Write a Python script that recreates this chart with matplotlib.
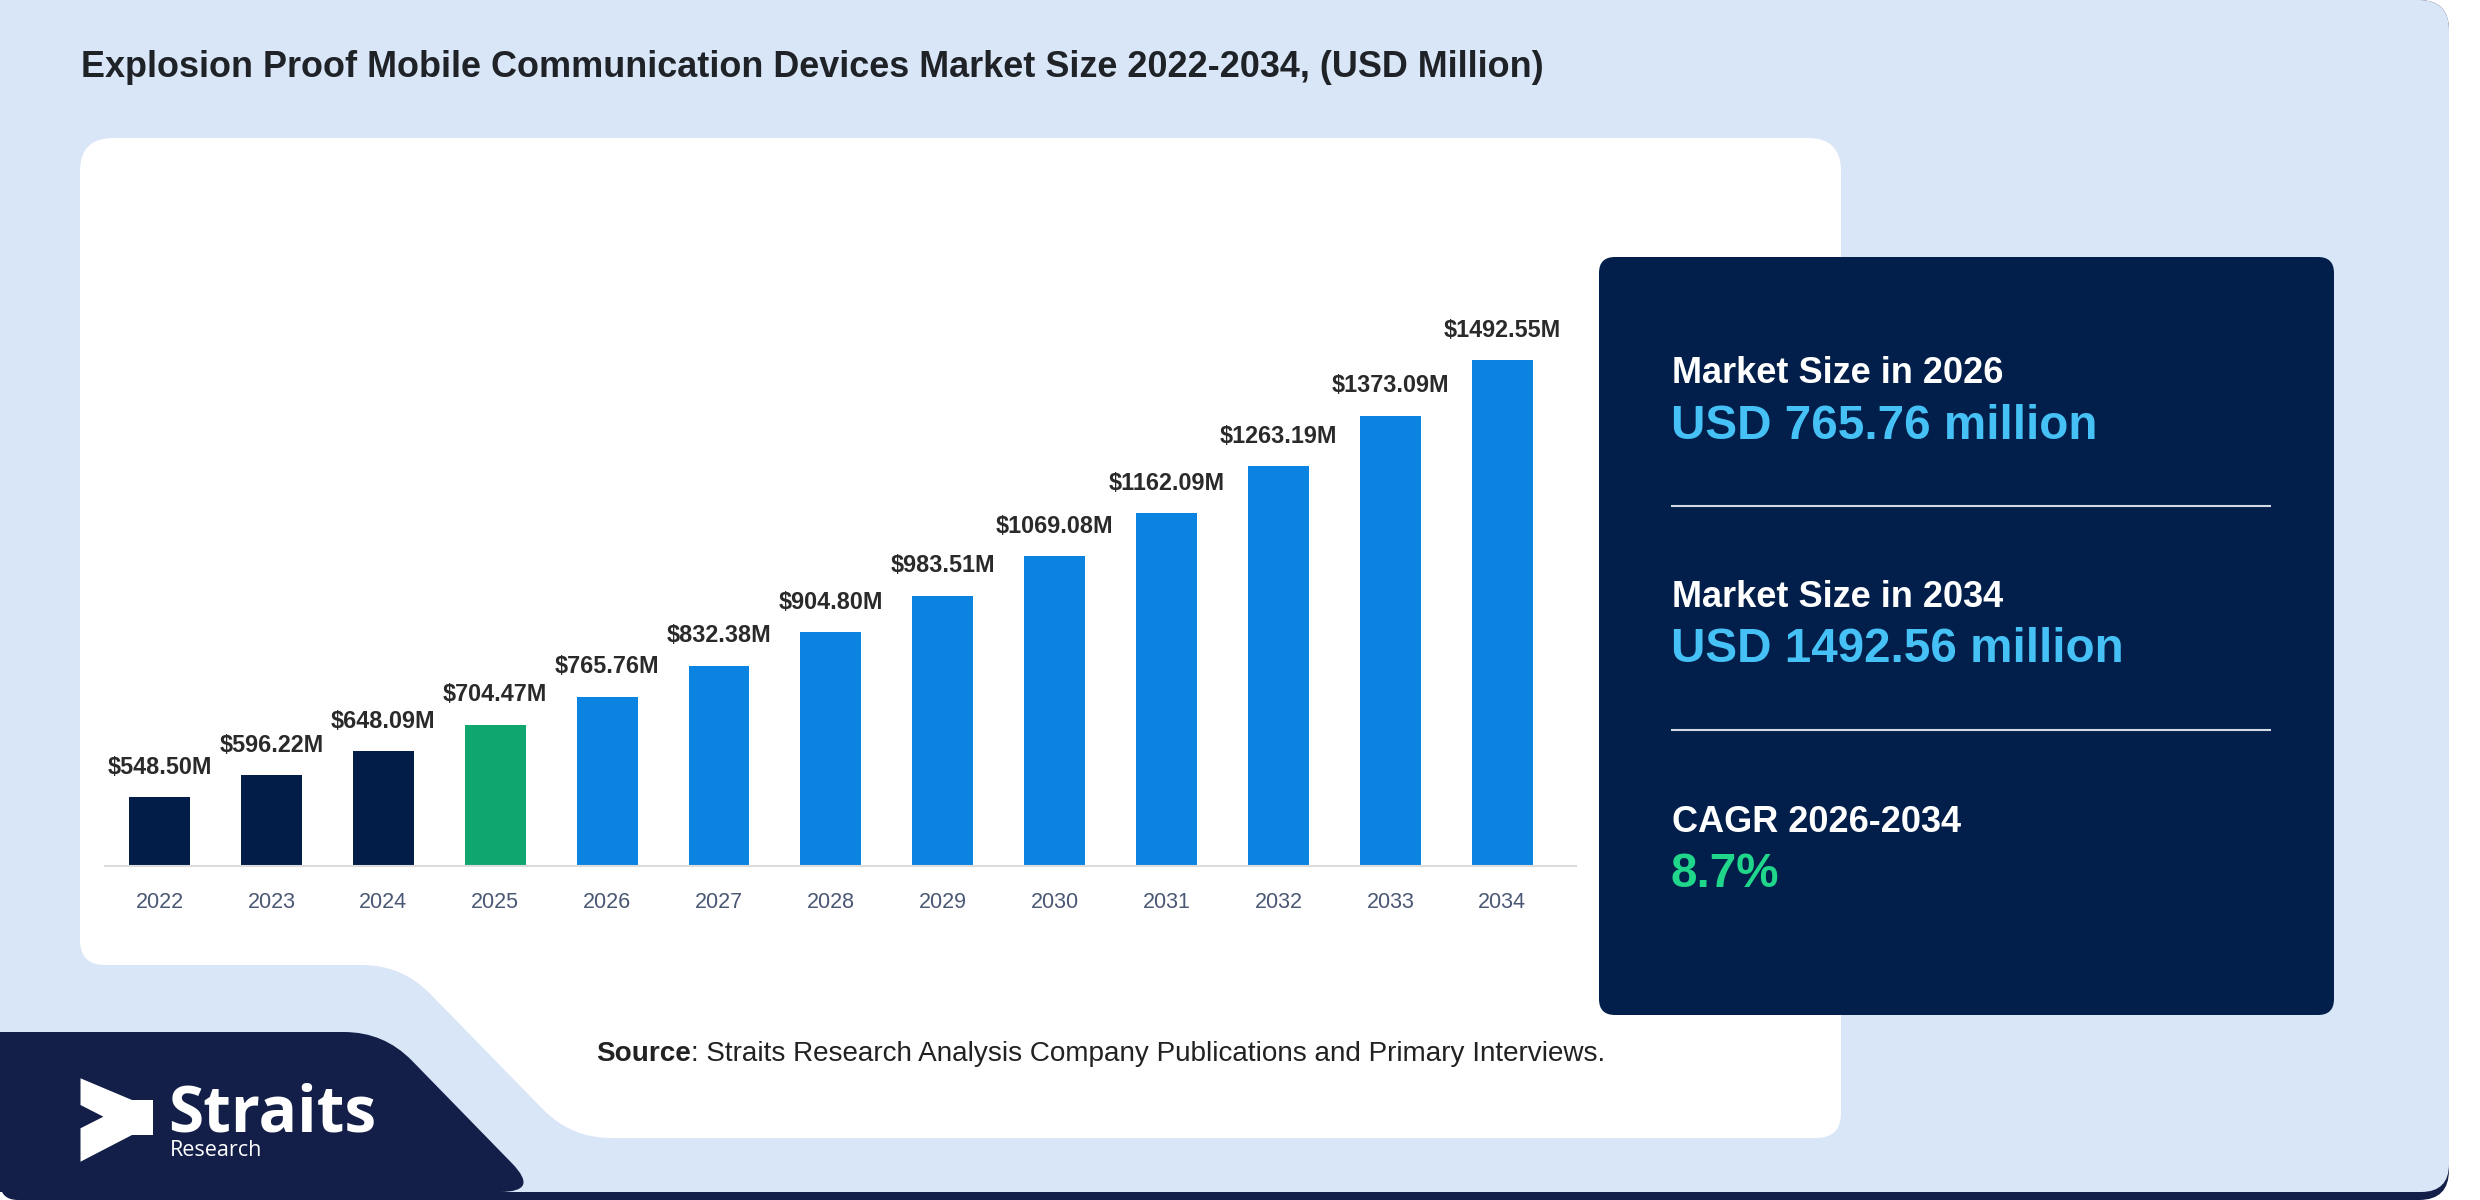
import numpy as np
import matplotlib
matplotlib.use("Agg")
import matplotlib.pyplot as plt
from matplotlib.path import Path
from matplotlib.patches import PathPatch

# ---------------- data ----------------
years = ["2022", "2023", "2024", "2025", "2026", "2027", "2028",
         "2029", "2030", "2031", "2032", "2033", "2034"]
values = [548.50, 596.22, 648.09, 704.47, 765.76, 832.38, 904.80,
          983.51, 1069.08, 1162.09, 1263.19, 1373.09, 1492.55]
bar_groups = ["hist", "hist", "hist", "base", "fc", "fc", "fc",
              "fc", "fc", "fc", "fc", "fc", "fc"]

title = "Explosion Proof Mobile Communication Devices Market Size 2022-2034, (USD Million)"
source_bold = "Source"
source_rest = ": Straits Research Analysis Company Publications and Primary Interviews."
panel_items = [
    ("Market Size in 2026", "USD 765.76 million", "#45c1f5"),
    ("Market Size in 2034", "USD 1492.56 million", "#45c1f5"),
    ("CAGR 2026-2034", "8.7%", "#20d68a"),
]

# ---------------- style ----------------
FONT = ["Liberation Sans", "DejaVu Sans"]
LOGO_FONT = ["Open Sans", "DejaVu Sans"]
plt.rcParams["font.family"] = FONT

C_BG = "#d9e6f8"
C_NAVY_LOGO = "#131f48"
C_PANEL = "#011f4a"
C_COLORS = {"hist": "#021e48", "base": "#10a66f", "fc": "#0b83e0"}

W, H = 2480, 1200
fig = plt.figure(figsize=(W / 100, H / 100), dpi=100, facecolor="white")

bg = fig.add_axes([0, 0, 1, 1])
bg.set_xlim(0, W)
bg.set_ylim(H, 0)
bg.axis("off")
bg.set_zorder(0)


def rounded_path(pts, radii):
    n = len(pts)
    verts, codes = [], []
    for i in range(n):
        P = np.array(pts[i], float)
        A = np.array(pts[i - 1], float)
        B = np.array(pts[(i + 1) % n], float)
        r = radii[i]
        if r <= 0:
            verts.append(P)
            codes.append(Path.MOVETO if i == 0 else Path.LINETO)
            continue
        dA = (A - P) / np.linalg.norm(A - P)
        dB = (B - P) / np.linalg.norm(B - P)
        p1 = P + dA * r
        p2 = P + dB * r
        verts.append(p1)
        codes.append(Path.MOVETO if i == 0 else Path.LINETO)
        verts += [P, p2]
        codes += [Path.CURVE3, Path.CURVE3]
    verts.append(verts[0])
    codes.append(Path.CLOSEPOLY)
    return Path(verts, codes)


def shape(pts, radii, color, z):
    bg.add_patch(PathPatch(rounded_path(pts, radii), facecolor=color,
                           edgecolor="none", zorder=z))


# outer frame (navy shadow + light blue card)
shape([(0, 0), (2449, 0), (2449, 1200), (0, 1200)], [0, 30, 30, 18], C_NAVY_LOGO, 1)
shape([(0, 0), (2449, 0), (2449, 1192), (0, 1192)], [0, 30, 28, 0], C_BG, 2)
# logo block
shape([(0, 1032), (384, 1032), (540, 1192), (0, 1192)], [0, 40, 40, 0], C_NAVY_LOGO, 3)
# white chart card
shape([(80, 138), (1841, 138), (1841, 1138), (571, 1138), (402, 965), (80, 965)],
      [33, 33, 25, 40, 40, 25], "white", 4)
# dark info panel
shape([(1599, 257), (2334, 257), (2334, 1015), (1599, 1015)], [16, 16, 16, 16], C_PANEL, 5)

# logo arrow
arrow = [(80.5, 1078.3), (132, 1100), (153, 1100), (153, 1135), (132, 1135),
         (80.5, 1161.7), (80.5, 1128.3), (103.4, 1116.7), (80.5, 1105)]
shape(arrow, [0] * len(arrow), "white", 6)
bg.text(168, 1132, "Straits", color="white", fontsize=46, fontweight="bold",
        family=LOGO_FONT, va="baseline", ha="left", zorder=7)
bg.text(170, 1156, "Research", color="white", fontsize=15.5, family=LOGO_FONT,
        va="baseline", ha="left", zorder=7)

# title
bg.text(81, 77, title, fontsize=25.9, fontweight="bold", color="#1f2327",
        va="baseline", ha="left", zorder=7)

# source
t1 = bg.text(596, 1061, source_bold, fontsize=20.1, fontweight="bold",
             color="#222222", va="baseline", ha="left", zorder=7)
bg.annotate(source_rest, xy=(1, 0), xycoords=t1, va="bottom", ha="left",
            fontsize=20.1, color="#222222", zorder=7)

# info panel texts
label_baselines = [383, 607, 832]
value_baselines = [439, 662, 887]
for (lab, val, col), yl, yv in zip(panel_items, label_baselines, value_baselines):
    bg.text(1672, yl, lab, color="white", fontsize=26, fontweight="bold",
            va="baseline", ha="left", zorder=7)
    bg.text(1671, yv, val, color=col, fontsize=34.3, fontweight="bold",
            va="baseline", ha="left", zorder=7)
for yline in (506, 730):
    bg.plot([1671, 2271], [yline, yline], color="#d3d9e3", lw=1.5, zorder=7,
            solid_capstyle="butt")

# ---------------- bar chart ----------------
ax_left, ax_right, ax_bottom, ax_top = 105, 1576, 866, 200
ax = fig.add_axes([ax_left / W, (H - ax_bottom) / H,
                   (ax_right - ax_left) / W, (ax_bottom - ax_top) / H])
ax.set_zorder(2)
ax.patch.set_alpha(0)

x = np.arange(len(years))
colors = [C_COLORS[g] for g in bar_groups]
ax.bar(x, values, width=0.545, bottom=0, color=colors, zorder=2)

px_per_cat = 111.9
ax.set_xlim((ax_left - 159.5) / px_per_cat, (ax_right - 159.5) / px_per_cat)
y0 = 400
px_per_unit = 0.4629
ax.set_ylim(y0, y0 + (ax_bottom - ax_top) / px_per_unit)

for s in ("top", "right", "left"):
    ax.spines[s].set_visible(False)
ax.spines["bottom"].set_color("#dcdcdc")
ax.spines["bottom"].set_linewidth(1.5)
ax.spines["bottom"].set_zorder(3)
ax.set_yticks([])
ax.set_xticks(x)
ax.set_xticklabels(years)
ax.tick_params(axis="x", length=0, pad=18.5, labelsize=15.5, labelcolor="#4a5875")

for xi, v in zip(x, values):
    ax.annotate(f"${v:.2f}M", xy=(xi, v), xytext=(0, 17), textcoords="offset points",
                ha="center", va="baseline", fontsize=16.8, fontweight="bold",
                color="#2a2a2a", annotation_clip=False, zorder=4)

fig.savefig("out.png", dpi=100, facecolor="white")
